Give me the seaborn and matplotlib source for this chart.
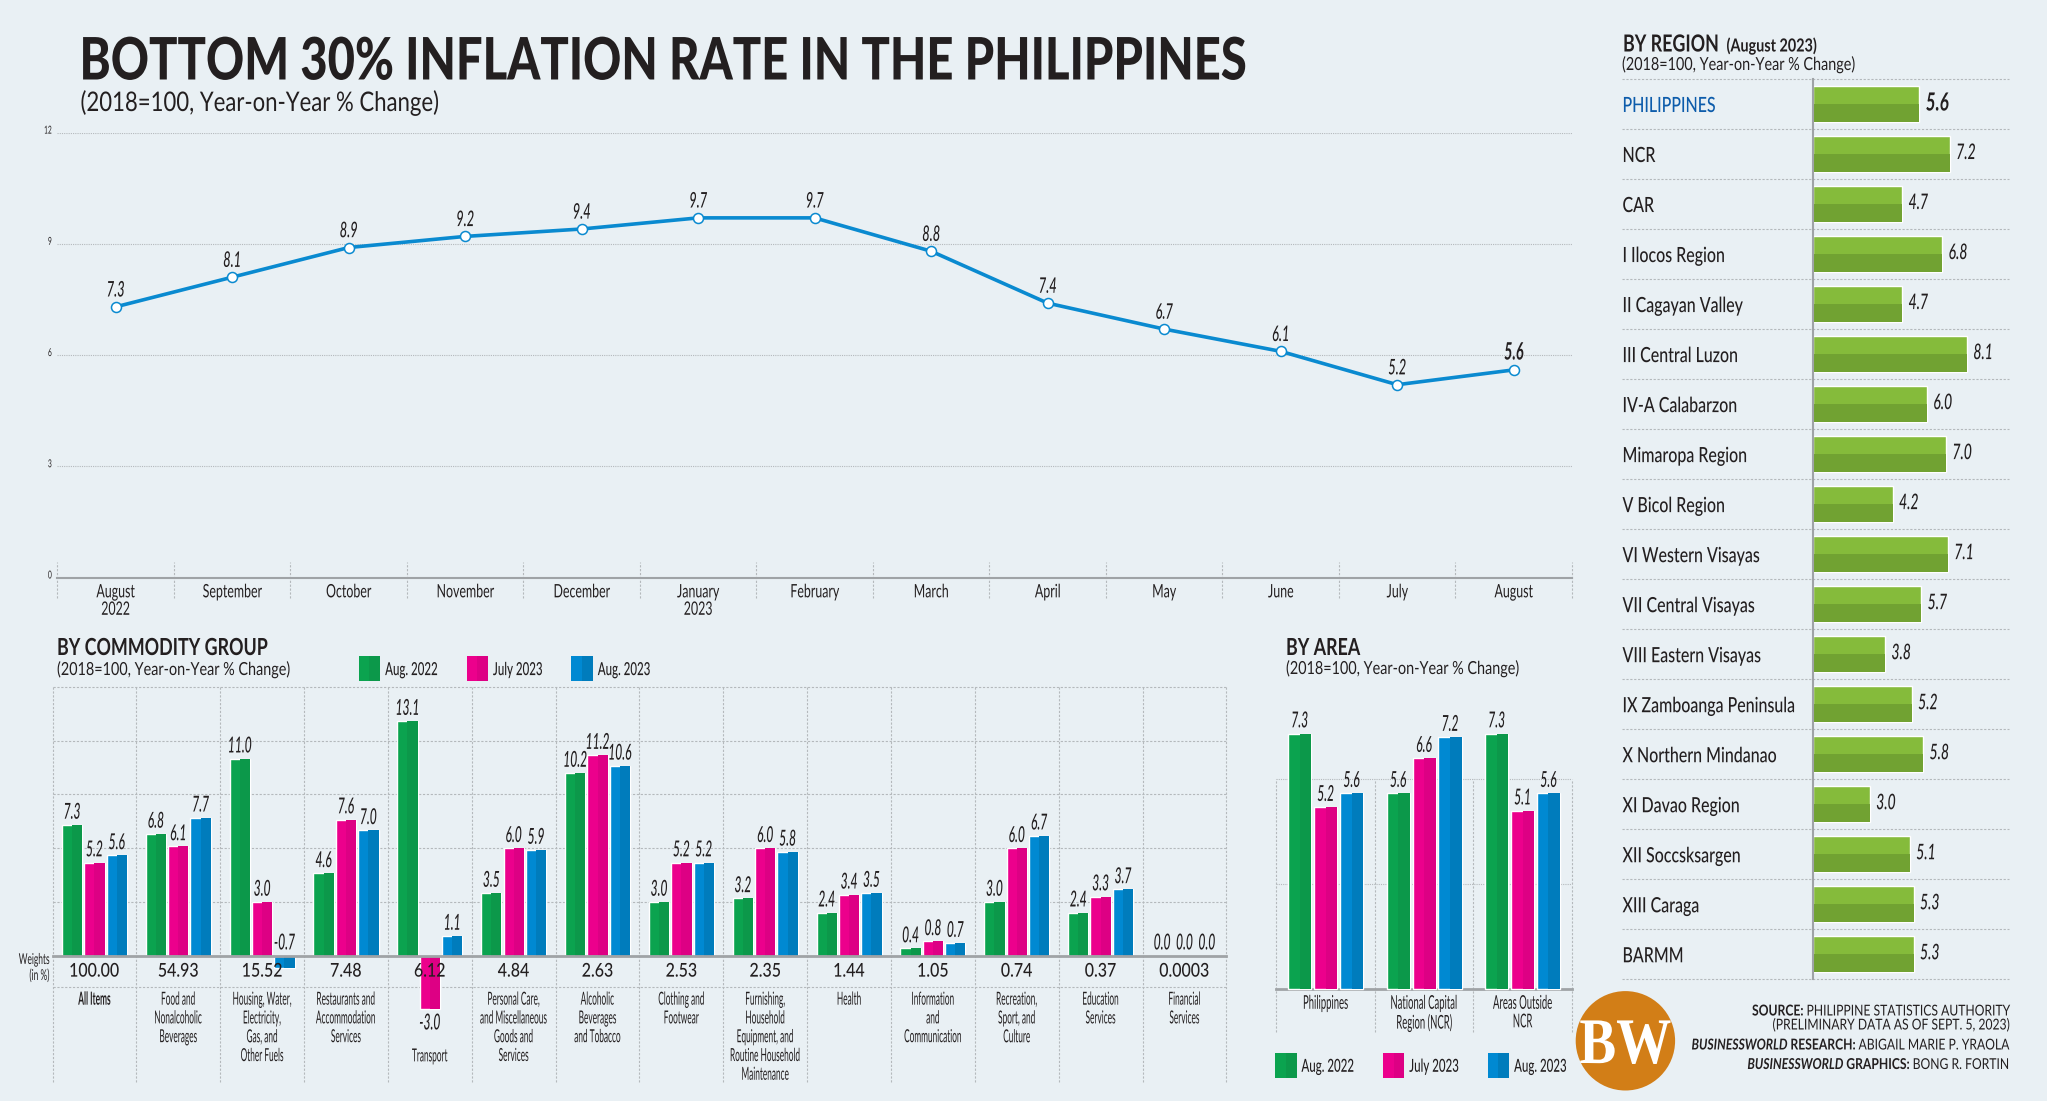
import matplotlib
matplotlib.use("Agg")
import matplotlib.pyplot as plt
import matplotlib.patheffects as pe
import matplotlib.transforms as mtrans
from matplotlib.legend_handler import HandlerTuple
from matplotlib.patches import Circle, Patch, Rectangle
import pandas as pd
import seaborn as sns

# ─── Data ────────────────────────────────────────────────────────────────────
MONTHS = ["August\n2022", "September", "October", "November", "December", "January\n2023",
          "February", "March", "April", "May", "June", "July", "August"]
RATES = [7.3, 8.1, 8.9, 9.2, 9.4, 9.7, 9.7, 8.8, 7.4, 6.7, 6.1, 5.2, 5.6]

SERIES = ["Aug. 2022", "July 2023", "Aug. 2023"]
GROUPS = ["All Items", "Food and\nNonalcoholic\nBeverages", "Housing, Water,\nElectricity,\nGas, and\nOther Fuels",
          "Restaurants and\nAccommodation\nServices", "Transport",
          "Personal Care,\nand Miscellaneous\nGoods and\nServices", "Alcoholic\nBeverages\nand Tobacco",
          "Clothing and\nFootwear", "Furnishing,\nHousehold\nEquipment, and\nRoutine Household\nMaintenance",
          "Health", "Information\nand\nCommunication", "Recreation,\nSport, and\nCulture",
          "Education\nServices", "Financial\nServices"]
WEIGHTS = ["100.00", "54.93", "15.52", "7.48", "6.12", "4.84", "2.63", "2.53", "2.35",
           "1.44", "1.05", "0.74", "0.37", "0.0003"]
GROUP_AUG22 = [7.3, 6.8, 11.0, 4.6, 13.1, 3.5, 10.2, 3.0, 3.2, 2.4, 0.4, 3.0, 2.4, 0.0]
GROUP_JUL23 = [5.2, 6.1, 3.0, 7.6, -3.0, 6.0, 11.2, 5.2, 6.0, 3.4, 0.8, 6.0, 3.3, 0.0]
GROUP_AUG23 = [5.6, 7.7, -0.7, 7.0, 1.1, 5.9, 10.6, 5.2, 5.8, 3.5, 0.7, 6.7, 3.7, 0.0]

AREAS = ["Philippines", "National Capital\nRegion (NCR)", "Areas Outside\nNCR"]
AREA_AUG22 = [7.3, 5.6, 7.3]
AREA_JUL23 = [5.2, 6.6, 5.1]
AREA_AUG23 = [5.6, 7.2, 5.6]

REGIONS = ["PHILIPPINES", "NCR", "CAR", "I Ilocos Region", "II Cagayan Valley", "III Central Luzon",
           "IV-A Calabarzon", "Mimaropa Region", "V Bicol Region", "VI Western Visayas",
           "VII Central Visayas", "VIII Eastern Visayas", "IX Zamboanga Peninsula",
           "X Northern Mindanao", "XI Davao Region", "XII Soccsksargen", "XIII Caraga", "BARMM"]
REGION_RATES = [5.6, 7.2, 4.7, 6.8, 4.7, 8.1, 6.0, 7.0, 4.2, 7.1, 5.7, 3.8, 5.2, 5.8, 3.0, 5.1, 5.3, 5.3]

# ─── Style ───────────────────────────────────────────────────────────────────
W, H = 2047, 1101
PX = 0.72  # font size in pixels -> points at dpi 100
BG, INK, GRID, AXIS = "#E9F0F4", "#231F20", "#B4B9BC", "#9FA3A6"
LINE_BLUE = "#0A8AD0"
LIGHT = ["#0BA34F", "#EC008C", "#0089D2"]
DARK = ["#0C984A", "#DD0084", "#007CBC"]
SUB = "(2018=100, Year-on-Year % Change)"

sns.set_theme(style="white")
plt.rcParams["font.family"] = ["Lato", "DejaVu Sans"]
plt.rcParams["text.color"] = INK

fig = plt.figure(figsize=(W / 100, H / 100), dpi=100, facecolor=BG)


class Tall(pe.AbstractPathEffect):
    """Stretch text upward from its baseline, the house font is a condensed cut."""
    def __init__(self, sy, drop=0):
        super().__init__()
        self.sy = sy
        self.drop = drop

    def draw_path(self, renderer, gc, tpath, affine, rgbFace=None):
        base = affine.transform((0, 0))[1]
        tall = affine + mtrans.Affine2D().translate(0, -base).scale(1, self.sy).translate(0, base - self.drop)
        renderer.draw_path(gc, tpath, tall, rgbFace)


def condense(t, size, sx):
    # size = height of the drawn font in px, sx = how narrow it comes out
    t.set_fontsize(size * sx * PX)
    t.set_path_effects([Tall(1 / sx)])
    return t


def axes_px(left, top, right, bottom):
    ax = fig.add_axes([left / W, 1 - bottom / H, (right - left) / W, (bottom - top) / H])
    ax.patch.set_alpha(0)
    return ax


def put(x, y, s, size, sx=1.0, ha="left", va="baseline", **kw):
    return condense(fig.text(x / W, 1 - y / H, s, ha=ha, va=va, **kw), size, sx)


def style_text(texts, size, sx, weight="normal"):
    for t in texts:
        t.set_color(INK)
        t.set_fontweight(weight)
        condense(t, size, sx)


def two_tone_columns(ax):
    # right half of every bar a shade darker
    for cont, dark in zip(ax.containers, DARK):
        for p in cont:
            ax.add_patch(Rectangle((p.get_x() + p.get_width() / 2, p.get_y()), p.get_width() / 2,
                                   p.get_height(), fc=dark, lw=0, zorder=p.get_zorder()))


def bar_values(ax, size, sx, pad):
    for cont in ax.containers:
        for ann in ax.bar_label(cont, fmt="%.1f", padding=pad, style="italic", weight="medium", zorder=6):
            condense(ann, size, sx)
            if ann.get_text() == "-0.7":
                ann.xy = (ann.xy[0], 0)
                ann.xyann = (0, pad)
                ann.set_va("bottom")
            elif ann.get_text() == "-3.0":
                ann.xyann = (0, -8)


def legend_px(ax, x, y, gap):
    handles = [(Patch(fc=a, lw=0), Patch(fc=b, lw=0)) for a, b in zip(LIGHT, DARK)]
    leg = ax.legend(handles, SERIES, handler_map={tuple: HandlerTuple(ndivide=None, pad=0)}, ncols=3,
                    frameon=False, loc="upper left", bbox_to_anchor=(x / W, 1 - y / H),
                    bbox_transform=fig.transFigure, borderpad=0, borderaxespad=0,
                    prop={"size": 11.5 * PX, "weight": "medium"},
                    handlelength=1.87, handleheight=3.03, handletextpad=0.43, columnspacing=gap)
    for t in leg.get_texts():
        t.set_path_effects([Tall(1 / 0.64, drop=3)])


# ─── Headline and line chart ─────────────────────────────────────────────────
put(79.5, 79.5, "BOTTOM 30% INFLATION RATE IN THE PHILIPPINES", 58.5, 0.806, weight="black")
put(80.5, 111, SUB, 27, 0.82)

ax = axes_px(57.4, 132.6, 1572, 577.5)
sns.lineplot(x=MONTHS, y=RATES, ax=ax, sort=False, errorbar=None, color=LINE_BLUE, linewidth=2.6,
             marker="o", markersize=7.2, markerfacecolor="white", markeredgecolor=LINE_BLUE,
             markeredgewidth=1.1, zorder=4)
ax.set_xlim(-0.5, 12.5)
ax.set_ylim(0, 12)
ax.set_yticks([0, 3, 6, 9, 12])
ax.grid(axis="y", color=GRID, ls=(0, (1, 1)), lw=0.8)
sns.despine(ax=ax, left=True)
ax.spines["bottom"].set_color(AXIS)
ax.spines["bottom"].set_linewidth(1.5)
ax.vlines([i - 0.5 for i in range(14)], -0.55, 0.42, color=GRID, ls=(0, (2, 1.5)), lw=0.8, clip_on=False)
ax.set_xticks(range(13), MONTHS, linespacing=1.15 / 0.67)
ax.tick_params(axis="x", length=0, pad=7.8)
ax.tick_params(axis="y", length=0, pad=4)
style_text(ax.get_xticklabels(), 18.5, 0.67)
style_text(ax.get_yticklabels(), 11, 0.6)
for t in ax.get_yticklabels():
    t.set_va("center")
    t.set_transform(t.get_transform() + mtrans.Affine2D().translate(0, 1.5))
for i, v in enumerate(RATES):
    last = i == len(RATES) - 1
    t = ax.annotate(f"{v:.1f}", (i, v), xytext=(0, 6), textcoords="offset points", ha="center", va="bottom",
                    style="italic", weight="bold" if last else "medium", zorder=6)
    condense(t, 24 if last else 21.5, 0.6)

# ─── By commodity group ──────────────────────────────────────────────────────
df = pd.DataFrame({"group": GROUPS, SERIES[0]: GROUP_AUG22, SERIES[1]: GROUP_JUL23, SERIES[2]: GROUP_AUG23})
df = df.melt(id_vars="group", var_name="period", value_name="rate")

ax = axes_px(52.5, 687, 1226.4, 1081.7)
sns.barplot(data=df, x="group", y="rate", hue="period", order=GROUPS, hue_order=SERIES, palette=LIGHT,
            saturation=1, width=0.8, gap=0.09, errorbar=None, legend=False, ax=ax, zorder=3)
two_tone_columns(ax)
ax.set_xlim(-0.5, 13.5)
ax.set_ylim(-7.04, 15)
ax.set_xlabel("")
ax.set_ylabel("")
ax.set_yticks([])
ax.hlines([3, 6, 9, 12, 15, -1.77], -0.5, 13.5, color=GRID, ls=(0, (2, 1.5)), lw=0.8, clip_on=False, zorder=1)
ax.vlines([i - 0.5 for i in range(15)], -7.04, 15, color=GRID, ls=(0, (2, 1.5)), lw=0.8, clip_on=False, zorder=1)
sns.despine(ax=ax, left=True)
ax.spines["bottom"].set_position(("data", 0))
ax.spines["bottom"].set_color(AXIS)
ax.spines["bottom"].set_linewidth(2)
ax.spines["bottom"].set_zorder(5)
ax.set_xticks(range(14), GROUPS, linespacing=1.36 / 0.46)
ax.tick_params(axis="x", length=0, pad=31)
style_text(ax.get_xticklabels(), 18, 0.46)
ax.get_xticklabels()[0].set_fontweight("bold")
# Transport sits under its negative bar
transport = ax.get_xticklabels()[GROUPS.index("Transport")]
transport.set_transform(transport.get_transform() + mtrans.Affine2D().translate(0, -56.7))
bar_values(ax, 22, 0.55, 3)
for i, w in enumerate(WEIGHTS):
    t = ax.text(i, -0.95, w, ha="center", va="center", weight="medium", zorder=7)
    condense(t, 19, 0.84)
legend_px(ax, 358.7, 656, 2.5)

put(57, 655, "BY COMMODITY GROUP", 23.5, 0.76, weight="bold")
put(57, 675, SUB, 18, 0.80)
put(49.5, 964, "Weights", 15, 0.56, ha="right")
put(49.5, 980, "(in %)", 15, 0.56, ha="right")

# ─── By area ─────────────────────────────────────────────────────────────────
df = pd.DataFrame({"area": AREAS, SERIES[0]: AREA_AUG22, SERIES[1]: AREA_JUL23, SERIES[2]: AREA_AUG23})
df = df.melt(id_vars="area", var_name="period", value_name="rate")

ax = axes_px(1276.4, 709, 1571.8, 1031.7)
sns.barplot(data=df, x="area", y="rate", hue="period", order=AREAS, hue_order=SERIES, palette=LIGHT,
            saturation=1, width=0.79, gap=0.11, errorbar=None, legend=False, ax=ax, zorder=3)
two_tone_columns(ax)
ax.set_xlim(-0.5, 2.5)
ax.set_ylim(-1.21, 8)
ax.set_xlabel("")
ax.set_ylabel("")
ax.set_yticks([])
ax.hlines([3, 6], -0.5, 2.5, color=GRID, ls=(0, (1, 1)), lw=0.8, zorder=1)
ax.vlines([i - 0.5 for i in range(4)], -1.21, 6, color=GRID, ls=(0, (2, 1.5)), lw=0.8, clip_on=False, zorder=1)
sns.despine(ax=ax, left=True)
ax.spines["bottom"].set_position(("data", 0))
ax.spines["bottom"].set_color(AXIS)
ax.spines["bottom"].set_linewidth(2)
ax.set_xticks(range(3), AREAS, linespacing=1.18 / 0.5)
ax.tick_params(axis="x", length=0, pad=9)
style_text(ax.get_xticklabels(), 19, 0.5)
bar_values(ax, 22, 0.55, 3)
legend_px(ax, 1275, 1052.7, 2.5)

put(1286, 655, "BY AREA", 23.5, 0.76, weight="bold")
put(1286, 674, SUB, 18, 0.80)

# ─── By region ───────────────────────────────────────────────────────────────
ax = axes_px(1621.7, 79, 2009, 979.3)
sns.barplot(x=REGION_RATES, y=REGIONS, orient="y", color="#85BB3B", saturation=1, width=0.714,
            errorbar=None, ax=ax, zorder=3)
for p in ax.containers[0]:
    # lower half of the bar is darker
    ax.add_patch(Rectangle((p.get_x(), p.get_y() + p.get_height() / 2), p.get_width(), p.get_height() / 2,
                           fc="#71A232", lw=0, zorder=3))
ax.set_xlim(-10.03, 10.30)
ax.set_ylim(17.5, -0.5)
ax.set_xticks([])
ax.set_xlabel("")
ax.set_ylabel("")
ax.hlines([i - 0.5 for i in range(19)], -10.03, 10.30, color=GRID, ls=(0, (2, 1.5)), lw=0.8, clip_on=False, zorder=1)
sns.despine(ax=ax, bottom=True)
ax.spines["left"].set_position(("data", 0))
ax.spines["left"].set_color(AXIS)
ax.spines["left"].set_linewidth(1.5)
ax.spines["left"].set_zorder(5)
ax.tick_params(axis="y", length=0, pad=137)
style_text(ax.get_yticklabels(), 21, 0.76, weight="medium")
for t in ax.get_yticklabels():
    t.set_ha("left")
    t.set_va("center_baseline")
    t.set_transform(t.get_transform() + mtrans.Affine2D().translate(0, -2.5))
ax.get_yticklabels()[0].set_color("#0D5CAB")
for ann in ax.bar_label(ax.containers[0], fmt="%.1f", padding=4.5, style="italic", weight="medium", zorder=6):
    condense(ann, 21.5, 0.65)
    ann.set_va("center_baseline")
first = ax.texts[0]
condense(first, 25, 0.68)
first.set_fontweight("bold")

put(1623, 51.5, "BY REGION", 23.5, 0.76, weight="bold")
put(1726.5, 51.5, "(August 2023)", 18, 0.80, weight="bold")
put(1622, 70, SUB, 18, 0.80)

# ─── Logo and credits ────────────────────────────────────────────────────────
fig.add_artist(Circle((1625.4, H - 1040.8), 49.7, fc="#D27E17", lw=0, transform=mtrans.IdentityTransform()))
put(1625.4, 1063, "BW", 65, 0.85, ha="center", family=["Liberation Serif", "DejaVu Serif"], weight="bold", color="white")


def credit(y, runs, size=15, sx=0.81, x=2009.4):
    # right aligned line made of bold, italic and plain runs
    renderer = fig.canvas.get_renderer()
    for s, weight, style in reversed(runs):
        t = put(x, y, s, size, sx, ha="right", weight=weight, style=style)
        x -= t.get_window_extent(renderer).width + 3


credit(1015.5, [("SOURCE:", "bold", "normal"), ("PHILIPPINE STATISTICS AUTHORITY", "normal", "normal")])
credit(1029.5, [("(PRELIMINARY DATA AS OF SEPT. 5, 2023)", "normal", "normal")])
credit(1049.5, [("BUSINESSWORLD", "bold", "italic"), ("RESEARCH:", "bold", "normal"),
                ("ABIGAIL MARIE P. YRAOLA", "normal", "normal")])
credit(1069, [("BUSINESSWORLD", "bold", "italic"), ("GRAPHICS:", "bold", "normal"),
              ("BONG R. FORTIN", "normal", "normal")])

fig.savefig("out.png", dpi=100)
